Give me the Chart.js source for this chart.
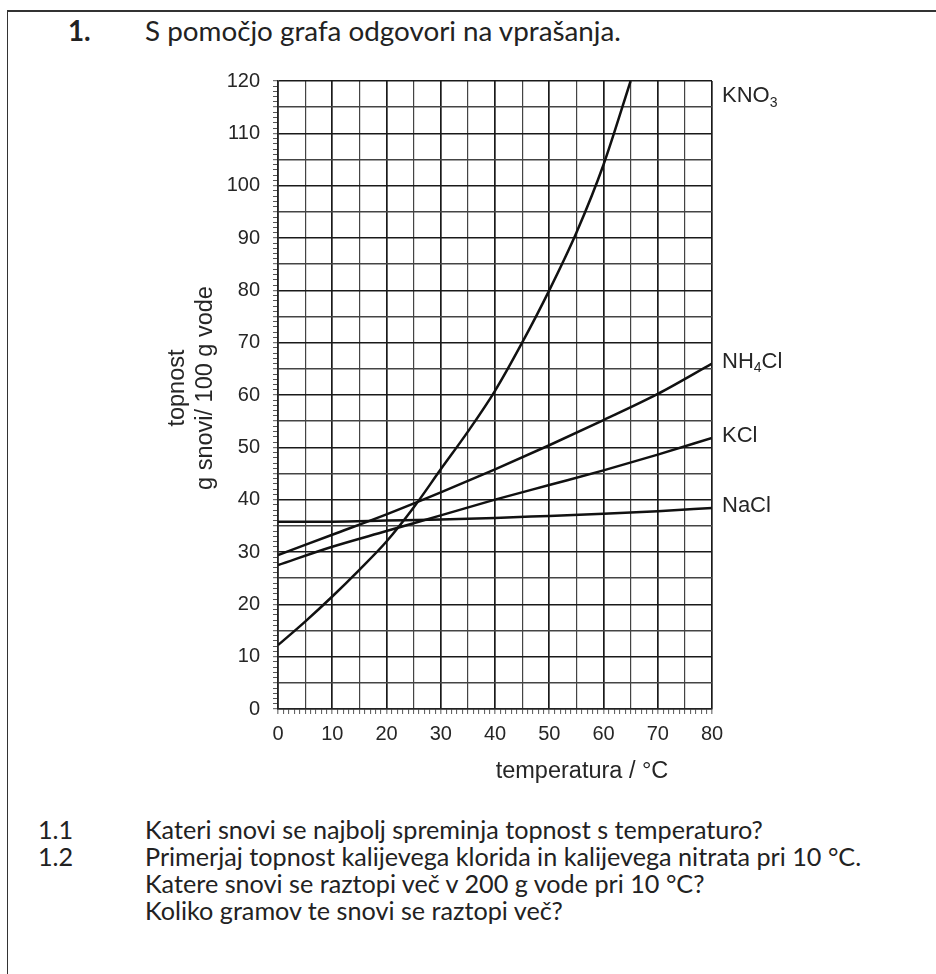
<!DOCTYPE html>
<html>
<head>
<meta charset="utf-8">
<script src="https://cdn.jsdelivr.net/npm/chart.js@4.4.1/dist/chart.umd.min.js"></script>
<style>
  body { margin: 0; background: #fff; width: 936px; height: 974px; overflow: hidden; position: relative; font-family: Lato, sans-serif; color: #222; }
  .frame { position: absolute; left: 7px; top: 10px; width: 960px; height: 1000px; border-left: 1.5px solid #333; border-top: 2px solid #333; }
  .txt { position: absolute; font-size: 25.2px; line-height: 27px; white-space: nowrap; }
  .head { font-size: 27.8px; }
  canvas { position: absolute; left: 0; top: 0; }
</style>
</head>
<body>
<div class="frame"></div>
<div class="txt head" style="left:68px;top:17px;font-weight:bold">1.</div>
<div class="txt head" style="left:145px;top:17px">S pomočjo grafa odgovori na vprašanja.</div>

<canvas id="topnostChart" width="936" height="800"></canvas>

<div class="txt" style="left:38px;top:816px">1.1</div>
<div class="txt" style="left:145px;top:816px">Kateri snovi se najbolj spreminja topnost s temperaturo?</div>
<div class="txt" style="left:38px;top:843px">1.2</div>
<div class="txt" style="left:145px;top:843px">Primerjaj topnost kalijevega klorida in kalijevega nitrata pri 10 °C.</div>
<div class="txt" style="left:145px;top:870px">Katere snovi se raztopi več v 200 g vode pri 10 °C?</div>
<div class="txt" style="left:145px;top:897px">Koliko gramov te snovi se raztopi več?</div>

<script>
  // temperature (°C) -> topnost (g / 100 g vode)
  const kno3Temps = [0, 5, 10, 15, 20, 25, 30, 35, 40, 45, 50, 55, 60, 65];
  const kno3Values = [12.2, 16.7, 21.5, 26.6, 32, 38.5, 45.8, 53, 60.8, 70, 80, 91, 104, 120];

  const temps = [0, 10, 20, 30, 40, 50, 60, 70, 80];
  const nh4clValues = [29.4, 33.3, 37.2, 41.4, 45.8, 50.4, 55.2, 60.2, 66];
  const kclValues = [27.5, 31, 34, 37, 40, 42.8, 45.6, 48.6, 51.8];
  const naclValues = [35.8, 35.8, 36, 36.2, 36.5, 36.9, 37.3, 37.8, 38.4];

  const seriesNames = ['KNO3', 'NH4Cl', 'KCl', 'NaCl'];
  const xTitle = 'temperatura / °C';
  const yTitle = ['topnost', 'g snovi/ 100 g vode'];

  const fontFam = '"Liberation Sans", Arial, Helvetica, sans-serif';
  const ink = '#262626';

  const pts = (xs, ys) => xs.map((t, i) => ({ x: t, y: ys[i] }));

  const gridColor = (v) => v % 10 === 0 ? '#1a1a1a' : (v % 5 === 0 ? '#444' : 'rgba(0,0,0,0)');
  const gridWidth = (v) => v % 10 === 0 ? 1.7 : 1.2;

  // chemical label with subscripted digits
  function drawChem(ctx, name, x, y) {
    let cx = x;
    for (const ch of name) {
      const sub = /[0-9]/.test(ch);
      ctx.font = (sub ? '14px ' : '22px ') + fontFam;
      ctx.fillText(ch, cx, sub ? y + 7 : y);
      cx += ctx.measureText(ch).width;
    }
  }

  const textPlugin = {
    id: 'textPlugin',
    afterDraw(chart) {
      const { ctx, chartArea, scales } = chart;
      ctx.save();
      ctx.fillStyle = ink;
      ctx.textBaseline = 'middle';

      // x title
      ctx.font = '23.5px ' + fontFam;
      ctx.textAlign = 'center';
      ctx.fillText(xTitle, chartArea.left + 304, chartArea.bottom + 63);

      // y title, two rotated lines
      ctx.save();
      ctx.translate(chartArea.left - 100, (chartArea.top + chartArea.bottom) / 2 - 7);
      ctx.rotate(-Math.PI / 2);
      ctx.fillText(yTitle[0], 0, 0);
      ctx.fillText(yTitle[1], 0, 28);
      ctx.restore();

      // series names at right end of each curve
      ctx.textAlign = 'left';
      chart.data.datasets.forEach((ds) => {
        const last = ds.data[ds.data.length - 1];
        let py = scales.y.getPixelForValue(Math.min(last.y, scales.y.max)) - 2;
        if (last.y >= scales.y.max) py += 17;
        drawChem(ctx, ds.label, chartArea.right + 10, py);
      });
      ctx.restore();
    }
  };

  const lineStyle = { borderColor: '#111', borderWidth: 2.5, pointRadius: 0, fill: false, cubicInterpolationMode: 'monotone' };

  new Chart(document.getElementById('topnostChart'), {
    type: 'line',
    data: {
      datasets: [
        { label: seriesNames[0], data: pts(kno3Temps, kno3Values), ...lineStyle },
        { label: seriesNames[1], data: pts(temps, nh4clValues), ...lineStyle },
        { label: seriesNames[2], data: pts(temps, kclValues), ...lineStyle },
        { label: seriesNames[3], data: pts(temps, naclValues), ...lineStyle }
      ]
    },
    options: {
      responsive: false,
      animation: false,
      layout: { padding: { left: 150, top: 81, right: 224, bottom: 0 } },
      plugins: { legend: { display: false }, tooltip: { enabled: false } },
      scales: {
        x: {
          type: 'linear',
          min: 0,
          max: 80,
          afterFit: (s) => { s.height = 91; },
          ticks: {
            stepSize: 1,
            autoSkip: false,
            maxRotation: 0,
            padding: 8,
            color: ink,
            font: { family: fontFam, size: 20 },
            callback: (v) => v % 10 === 0 ? v : ''
          },
          grid: {
            color: (c) => gridColor(c.tick.value),
            lineWidth: (c) => gridWidth(c.tick.value),
            tickLength: 5,
            tickColor: '#555',
            tickWidth: 1
          },
          border: { color: '#222', width: 1.5 }
        },
        y: {
          min: 0,
          max: 120,
          afterFit: (s) => { s.width = 128; },
          ticks: {
            stepSize: 1,
            autoSkip: false,
            padding: 13,
            color: ink,
            font: { family: fontFam, size: 20 },
            callback: (v) => v % 10 === 0 ? v : ''
          },
          grid: {
            color: (c) => gridColor(c.tick.value),
            lineWidth: (c) => c.tick.value % 5 === 0 ? 1.4 : 1,
            tickLength: 5,
            tickColor: '#555',
            tickWidth: 1
          },
          border: { color: '#222', width: 1.5 }
        }
      }
    },
    plugins: [textPlugin]
  });
</script>
</body>
</html>
